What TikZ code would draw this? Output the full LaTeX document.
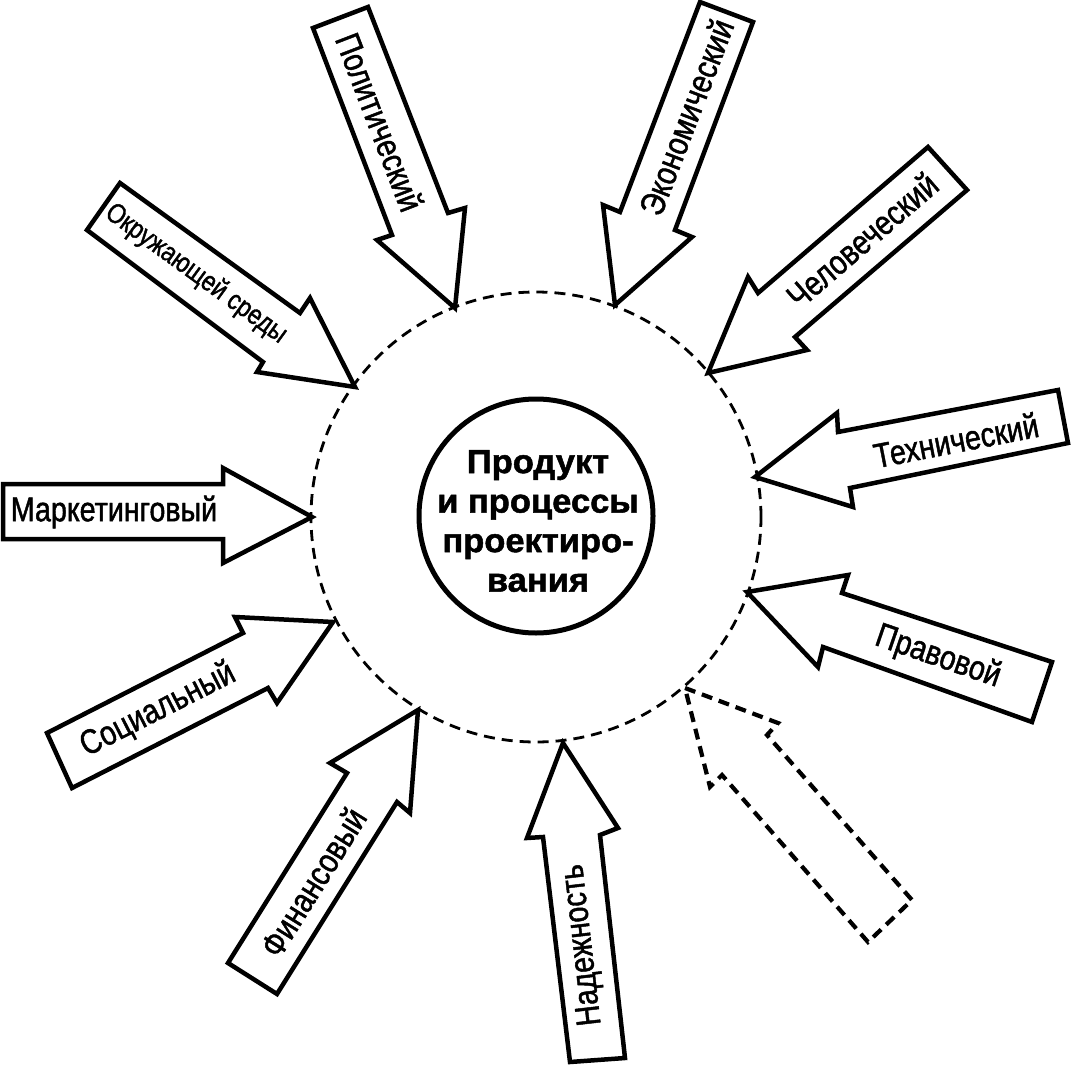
\documentclass[tikz,border=0pt]{standalone}
\usepackage{fontspec}
\newfontfamily\labfont[FakeStretch=0.83,FakeBold=1.3]{Liberation Sans}
\newfontfamily\corefont[FakeStretch=1.03,FakeBold=1.5]{Liberation Sans}
\begin{document}
\begin{tikzpicture}[x=1pt,y=-1pt,
  barrow/.style={draw=black, line width=4.5pt, line join=miter, miter limit=4},
  darrow/.style={draw=black, line width=4.2pt, dash pattern=on 11pt off 7pt, line join=miter, miter limit=4},
  lab/.style={font=\labfont\fontsize{34.5}{39}\selectfont, inner sep=0pt},
  smalllab/.style={font=\labfont\fontsize{28}{32}\selectfont, inner sep=0pt}]
\useasboundingbox (0,0) rectangle (1074,1065);
\fill[white] (0,0) rectangle (1074,1065);
% circles
\node[circle, draw, line width=2.8pt, dash pattern=on 11pt off 7pt, minimum size=450pt, inner sep=0pt] (ring) at (536,517) {};
\node[circle, draw, line width=5pt, minimum size=234pt, inner sep=0pt] (core) at (536,516) {};
\node[align=center, inner sep=0pt, font=\corefont\bfseries\fontsize{33.5}{39.5}\selectfont] (coretext) at (538,521) {Продукт\\и процессы\\проектиро-\\вания};
% block arrows
\draw[barrow] (3,484) -- (223,484) -- (223,468) -- (312,517) -- (223,563) -- (223,539) -- (3,539) -- cycle;
\draw[barrow] (313,28) -- (368,7) -- (448,213) -- (465,208) -- (455,308) -- (377,240) -- (392,235) -- cycle;
\draw[barrow] (700,2) -- (753,22) -- (675,230) -- (692,237) -- (615,305) -- (603,205) -- (620,212) -- cycle;
\draw[barrow] (928,147) -- (967,190) -- (795,337) -- (807,350) -- (708,373) -- (748,277) -- (758,293) -- cycle;
\draw[barrow] (755,477) -- (837,413) -- (838,432) -- (1058,390) -- (1068,443) -- (850,488) -- (853,507) -- cycle;
\draw[barrow] (747,592) -- (848,575) -- (842,593) -- (1052,662) -- (1032,722) -- (823,647) -- (818,667) -- cycle;
\draw[darrow] (685,688) -- (778,723) -- (767,735) -- (912,900) -- (868,942) -- (722,775) -- (710,787) -- cycle;
\draw[barrow] (563,743) -- (618,828) -- (600,835) -- (625,1058) -- (570,1062) -- (543,837) -- (527,838) -- cycle;
\draw[barrow] (418,710) -- (410,813) -- (397,802) -- (277,994) -- (228,963) -- (347,773) -- (330,763) -- cycle;
\draw[barrow] (333,622) -- (277,703) -- (268,688) -- (72,788) -- (47,733) -- (243,633) -- (235,617) -- cycle;
\draw[barrow] (355,387) -- (257,372) -- (263,362) -- (87,230) -- (120,183) -- (300,313) -- (310,298) -- cycle;
% labels
\node[lab] (mark) at (114,512) {Маркетинговый};
\node[lab, rotate=-69] (polit) at (380,122) {Политический};
\node[lab, rotate=69] (econ) at (686,117) {Экономический};
\node[lab, rotate=40.7] (human) at (862,240) {Человеческий};
\node[lab, rotate=11] (tech) at (956,440) {Технический};
\node[lab, rotate=-19] (law) at (938,657) {Правовой};
\node[lab, rotate=96.6] (rel) at (583,945) {Надежность};
\node[lab, rotate=58] (fin) at (313,882) {Финансовый};
\node[lab, rotate=27] (soc) at (158,710) {Социальный};
\node[smalllab, rotate=-36] (env) at (196,274) {Окружающей среды};
\end{tikzpicture}
\end{document}
